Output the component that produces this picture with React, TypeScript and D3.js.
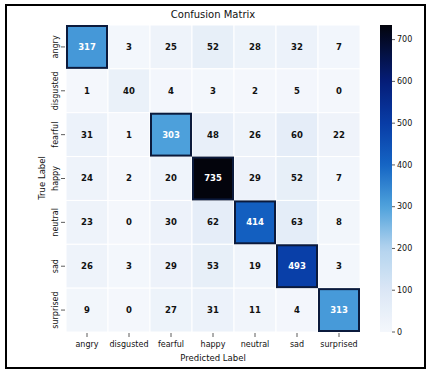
import React from 'react';
import * as d3 from 'd3';

// class names, same order on both axes
const labels = ['angry', 'disgusted', 'fearful', 'happy', 'neutral', 'sad', 'surprised'];

// counts, one row per true label
const angryRow = [317, 3, 25, 52, 28, 32, 7];
const disgustedRow = [1, 40, 4, 3, 2, 5, 0];
const fearfulRow = [31, 1, 303, 48, 26, 60, 22];
const happyRow = [24, 2, 20, 735, 29, 52, 7];
const neutralRow = [23, 0, 30, 62, 414, 63, 8];
const sadRow = [26, 3, 29, 53, 19, 493, 3];
const surprisedRow = [9, 0, 27, 31, 11, 4, 313];
const matrix = [angryRow, disgustedRow, fearfulRow, happyRow, neutralRow, sadRow, surprisedRow];

const colorbarTicks = [0, 100, 200, 300, 400, 500, 600, 700];

const W = 428;
const H = 372;
const FONT = '"DejaVu Sans", sans-serif';

const rampStops = [0, 100, 200, 300, 400, 500, 600, 735];
const rampColors = ['#f4f7fc', '#dbe7f5', '#b3d3ee', '#4fa2dc', '#1565c4', '#083ca6', '#051d78', '#03040c'];

const App = () => {
  const vmax = d3.max(matrix.flat()) as number;

  const x = d3.scaleBand<string>().domain(labels).range([66, 360]);
  const y = d3.scaleBand<string>().domain(labels).range([25, 332]);
  const color = d3.scaleLinear<string>().domain(rampStops).range(rampColors).interpolate(d3.interpolateRgb).clamp(true);

  const cb = d3.scaleLinear().domain([0, vmax]).range([332, 25]);
  const cbX = 380;
  const cbW = 12;
  const gradStops = d3.range(0, 1.0001, 0.02);

  const cells = matrix.flatMap((row, i) =>
    row.map((v, j) => ({ v, i, j, t: labels[i], p: labels[j] }))
  );

  return (
    <svg width={W} height={H} style={{ position: 'fixed', left: 0, top: 0, background: '#fff' }} fontFamily={FONT}>
      <defs>
        <linearGradient id="cbGrad" x1="0" y1="1" x2="0" y2="0">
          {gradStops.map((s) => (
            <stop key={s} offset={s} stopColor={color(s * vmax)} />
          ))}
        </linearGradient>
      </defs>
      <rect x={0} y={0} width={W} height={H} fill="#fff" />

      <text x={213} y={18} textAnchor="middle" fontSize={10} fill="#111">
        Confusion Matrix
      </text>

      {/* heatmap cells */}
      {cells.map((c) => (
        <rect
          key={`${c.i}-${c.j}`}
          x={x(c.p)}
          y={y(c.t)}
          width={x.bandwidth()}
          height={y.bandwidth()}
          fill={color(c.v)}
          stroke="#fff"
          strokeWidth={1}
        />
      ))}
      {/* dark outline round the strong cells */}
      {cells
        .filter((c) => c.v > 250)
        .map((c) => (
          <rect
            key={`d-${c.i}-${c.j}`}
            x={(x(c.p) as number) + 1}
            y={(y(c.t) as number) + 1}
            width={x.bandwidth() - 2}
            height={y.bandwidth() - 2}
            fill="none"
            stroke="#0b1a3c"
            strokeWidth={2}
          />
        ))}
      {cells.map((c) => (
        <text
          key={`t-${c.i}-${c.j}`}
          x={(x(c.p) as number) + x.bandwidth() / 2}
          y={(y(c.t) as number) + y.bandwidth() / 2}
          dy="0.35em"
          textAnchor="middle"
          fontSize={8.5}
          fontWeight="bold"
          fill={c.v > 250 ? '#fff' : '#111'}
        >
          {c.v}
        </text>
      ))}

      {/* x axis */}
      {labels.map((l) => {
        const cx = (x(l) as number) + x.bandwidth() / 2;
        return (
          <g key={`x-${l}`}>
            <line x1={cx} x2={cx} y1={333} y2={337} stroke="#333" strokeWidth={0.8} />
            <text x={cx} y={347} textAnchor="middle" fontSize={8} fill="#111">
              {l}
            </text>
          </g>
        );
      })}
      <text x={213} y={361} textAnchor="middle" fontSize={8.5} fill="#111">
        Predicted Label
      </text>

      {/* y axis */}
      {labels.map((l) => {
        const cy = (y(l) as number) + y.bandwidth() / 2;
        return (
          <g key={`y-${l}`}>
            <line x1={61} x2={65} y1={cy} y2={cy} stroke="#333" strokeWidth={0.8} />
            <text
              transform={`translate(58,${cy}) rotate(-90)`}
              textAnchor="middle"
              fontSize={8}
              fill="#111"
            >
              {l}
            </text>
          </g>
        );
      })}
      <text transform={`translate(45,178) rotate(-90)`} textAnchor="middle" fontSize={8.5} fill="#111">
        True Label
      </text>

      {/* colorbar */}
      <rect x={cbX} y={cb(vmax)} width={cbW} height={cb(0) - cb(vmax)} fill="url(#cbGrad)" />
      {colorbarTicks.map((t) => (
        <g key={`cb-${t}`}>
          <line x1={cbX + cbW} x2={cbX + cbW + 3} y1={cb(t)} y2={cb(t)} stroke="#333" strokeWidth={0.8} />
          <text x={cbX + cbW + 5} y={cb(t)} dy="0.35em" fontSize={8} fill="#111">
            {t}
          </text>
        </g>
      ))}

      {/* outer frame */}
      <rect x={6} y={5} width={419} height={363} fill="none" stroke="#000" strokeWidth={2} />
    </svg>
  );
};

export default App;
